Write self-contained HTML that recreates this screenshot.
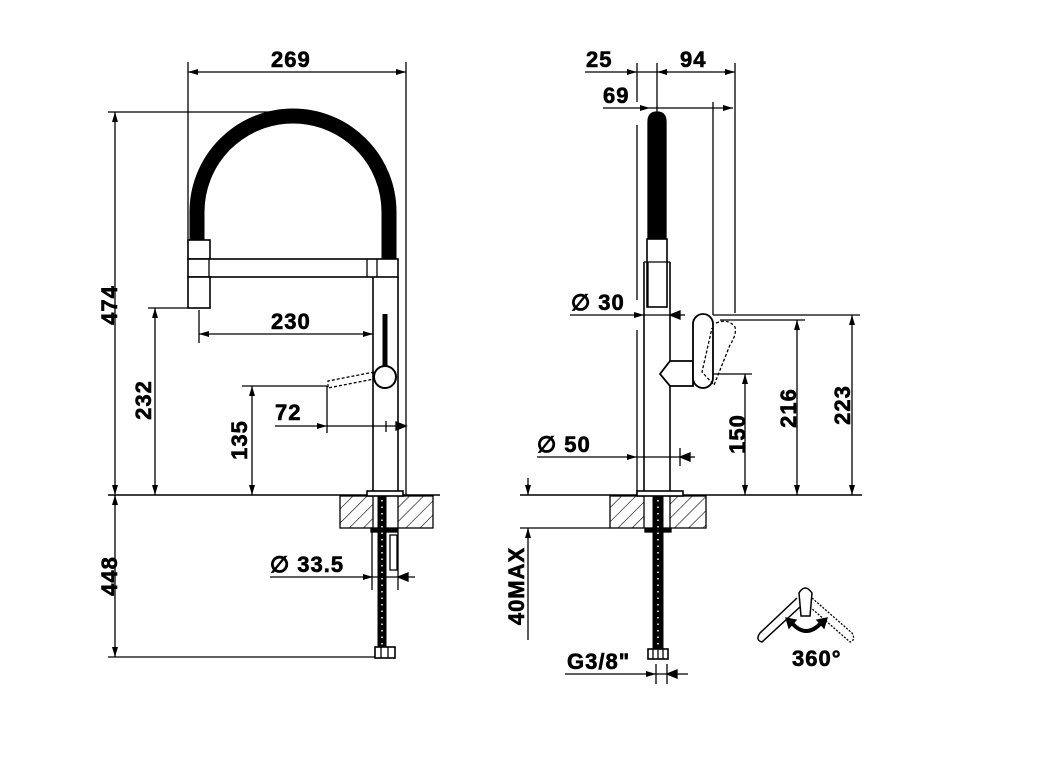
<!DOCTYPE html>
<html><head><meta charset="utf-8"><style>
html,body{margin:0;padding:0;background:#fff}
svg{display:block}
text{font-family:"Liberation Sans",Arial,sans-serif;font-weight:bold;font-size:22px;letter-spacing:1px;fill:#000;stroke:#000;stroke-width:0.6}
</style></head><body>
<svg width="1049" height="768" viewBox="0 0 1049 768" xmlns="http://www.w3.org/2000/svg">
<defs>
<marker id="a" viewBox="0 0 10 6" refX="10" refY="3" markerWidth="10" markerHeight="6" orient="auto-start-reverse" markerUnits="userSpaceOnUse"><path d="M0,0L10,3L0,6z" fill="#000"/></marker>
<pattern id="h" patternUnits="userSpaceOnUse" width="10" height="10" patternTransform="rotate(45)"><line x1="0" y1="0" x2="0" y2="10" stroke="#000" stroke-width="1.2"/></pattern>
</defs>
<g stroke="#000" stroke-width="1.3" fill="none">
<line x1="188" y1="62" x2="188" y2="245"/>
<line x1="406" y1="62" x2="406" y2="495"/>
<line x1="188" y1="72" x2="406" y2="72" marker-start="url(#a)" marker-end="url(#a)"/>
<line x1="108" y1="112" x2="285" y2="112"/>
<line x1="115" y1="112" x2="115" y2="495" marker-start="url(#a)" marker-end="url(#a)"/>
<line x1="108" y1="495" x2="440" y2="495" stroke-width="1.6"/>
<line x1="115" y1="495" x2="115" y2="657" marker-start="url(#a)" marker-end="url(#a)"/>
<line x1="108" y1="657" x2="378" y2="657"/>
<path d="M197,242 L197,212 A96,96 0 0 1 389,212 L389,260" stroke-width="15" stroke-linecap="butt"/>
<rect x="188" y="240" width="22" height="19" fill="#fff" stroke-width="1.6"/>
<rect x="188" y="259" width="210" height="18" fill="#fff" stroke-width="1.6"/>
<line x1="209" y1="259" x2="209" y2="277"/>
<line x1="367" y1="259" x2="367" y2="277"/>
<line x1="377" y1="259" x2="377" y2="277"/>
<rect x="188" y="277" width="22" height="31" fill="#fff" stroke-width="1.6"/>
<line x1="373" y1="277" x2="373" y2="493" stroke-width="1.6"/>
<line x1="398" y1="277" x2="398" y2="493" stroke-width="1.6"/>
<line x1="385" y1="314" x2="385" y2="366" stroke-width="5"/>
<circle cx="385" cy="377" r="11" fill="#fff" stroke-width="2"/>
<path d="M374,372 L328,381 L328,388 L374,379" stroke-dasharray="3,2"/>
<line x1="199" y1="310" x2="199" y2="343"/>
<line x1="199" y1="334" x2="373" y2="334" marker-start="url(#a)" marker-end="url(#a)"/>
<line x1="148" y1="308" x2="188" y2="308"/>
<line x1="155" y1="308" x2="155" y2="495" marker-start="url(#a)" marker-end="url(#a)"/>
<line x1="242" y1="386" x2="327" y2="386"/>
<line x1="252" y1="386" x2="252" y2="495" marker-start="url(#a)" marker-end="url(#a)"/>
<line x1="327" y1="386" x2="327" y2="433"/>
<line x1="275" y1="426" x2="327" y2="426" marker-end="url(#a)"/>
<line x1="327" y1="426" x2="406" y2="426"/>
<line x1="386" y1="421" x2="386" y2="432"/>
<path d="M396,422 L406,426 L396,430z" fill="#000"/>
<rect x="340" y="496" width="33" height="32" fill="url(#h)"/>
<rect x="398" y="496" width="35" height="32" fill="url(#h)"/>
<rect x="367" y="491" width="36" height="5" fill="#fff" stroke-width="1.6"/>
<line x1="372" y1="528" x2="372" y2="590"/>
<line x1="398" y1="528" x2="398" y2="590"/>
<rect x="371" y="528" width="26" height="4" fill="#000"/>
<line x1="382" y1="496" x2="382" y2="648" stroke-width="9"/>
<line x1="382" y1="500" x2="382" y2="645" stroke="#fff" stroke-width="1.5" stroke-dasharray="1.5,5"/>
<rect x="390" y="535" width="7" height="35" fill="#fff"/>
<rect x="375" y="647" width="20" height="11" fill="#fff" stroke-width="1.6"/>
<line x1="381" y1="647" x2="381" y2="658"/><line x1="388" y1="647" x2="388" y2="658"/>
<line x1="270" y1="577" x2="373" y2="577" marker-end="url(#a)"/>
<line x1="373" y1="577" x2="398" y2="577"/>
<line x1="398" y1="577" x2="415" y2="577"/>
<path d="M408,573 L398,577 L408,581z" fill="#000"/>
<line x1="637" y1="63" x2="637" y2="102"/>
<line x1="657" y1="63" x2="657" y2="112"/>
<line x1="735" y1="63" x2="735" y2="313"/>
<line x1="585" y1="72" x2="637" y2="72" marker-end="url(#a)"/>
<line x1="637" y1="72" x2="657" y2="72"/>
<line x1="657" y1="72" x2="735" y2="72" marker-start="url(#a)" marker-end="url(#a)"/>
<line x1="603" y1="108" x2="650" y2="108" marker-end="url(#a)"/>
<line x1="650" y1="108" x2="733" y2="108" marker-end="url(#a)"/>
<line x1="713" y1="102" x2="713" y2="315"/>
<line x1="637" y1="125" x2="637" y2="300"/>
<line x1="637" y1="330" x2="637" y2="495"/>
<path d="M648,240 L648,122 Q648,112 657,112 Q666,112 666,122 L666,240z" fill="#000"/>
<rect x="647" y="239" width="20" height="68" fill="#fff" stroke-width="1.6"/>
<line x1="644" y1="262" x2="670" y2="262"/>
<line x1="644" y1="262" x2="644" y2="493" stroke-width="1.6"/>
<line x1="670" y1="262" x2="670" y2="361" stroke-width="1.6"/>
<line x1="670" y1="386" x2="670" y2="493" stroke-width="1.6"/>
<line x1="648" y1="307" x2="648" y2="262"/>
<path d="M670,361 L693,361 L693,386 L670,386 L660,374z" fill="#fff" stroke-width="1.8"/>
<rect x="693" y="314" width="20" height="74" rx="10" fill="#fff" stroke-width="1.8"/>
<path d="M716,323 Q728,318 735,327 Q737,334 730,345 L714,385 L702,372 L712,328" stroke-dasharray="3,2"/>
<line x1="570" y1="315" x2="644" y2="315" marker-end="url(#a)"/>
<line x1="644" y1="315" x2="670" y2="315"/>
<line x1="670" y1="315" x2="685" y2="315"/>
<path d="M680,311 L670,315 L680,319z" fill="#000"/>
<line x1="713" y1="315" x2="860" y2="315"/>
<line x1="720" y1="320" x2="805" y2="320"/>
<line x1="713" y1="374" x2="752" y2="374"/>
<line x1="852" y1="315" x2="852" y2="495" marker-start="url(#a)" marker-end="url(#a)"/>
<line x1="797" y1="320" x2="797" y2="495" marker-start="url(#a)" marker-end="url(#a)"/>
<line x1="745" y1="374" x2="745" y2="495" marker-start="url(#a)" marker-end="url(#a)"/>
<line x1="680" y1="448" x2="680" y2="466"/>
<line x1="537" y1="457" x2="637" y2="457" marker-end="url(#a)"/>
<line x1="637" y1="457" x2="695" y2="457"/>
<path d="M690,453 L680,457 L690,461z" fill="#000"/>
<line x1="520" y1="495" x2="862" y2="495" stroke-width="1.6"/>
<line x1="520" y1="528" x2="610" y2="528"/>
<line x1="528" y1="478" x2="528" y2="495" marker-end="url(#a)"/>
<line x1="528" y1="640" x2="528" y2="528" marker-end="url(#a)"/>
<rect x="610" y="496" width="34" height="32" fill="url(#h)"/>
<rect x="670" y="496" width="36" height="32" fill="url(#h)"/>
<rect x="637" y="491" width="46" height="5" fill="#fff" stroke-width="1.6"/>
<rect x="645" y="528" width="26" height="4" fill="#000"/>
<line x1="658" y1="496" x2="658" y2="650" stroke-width="11"/>
<line x1="658" y1="500" x2="658" y2="646" stroke="#fff" stroke-width="1.5" stroke-dasharray="1.5,5"/>
<rect x="648" y="649" width="20" height="10" fill="#fff" stroke-width="1.6"/>
<line x1="653" y1="649" x2="653" y2="659"/><line x1="658" y1="649" x2="658" y2="659"/><line x1="663" y1="649" x2="663" y2="659"/>
<line x1="565" y1="674" x2="656" y2="674" marker-end="url(#a)"/>
<line x1="656" y1="674" x2="688" y2="674"/>
<path d="M677,670 L667,674 L677,678z" fill="#000"/>
<line x1="656" y1="664" x2="656" y2="684"/>
<line x1="667" y1="664" x2="667" y2="684"/>
<path d="M797,598 L760,633 Q755,640 762,642 L801,606" stroke-width="1.5"/>
<path d="M812,598 L852,633 Q856,640 850,642 L810,607" stroke-dasharray="2,1.5"/>
<path d="M799,593 Q805,583 812,593 L810,616 L801,616z" fill="#fff" stroke-width="1.5"/>
<path d="M791,622 Q806,640 822,622" stroke-width="4"/>
<path d="M786,618 L796,620 L789,628z" fill="#000"/>
<path d="M827,618 L817,620 L824,628z" fill="#000"/>
</g>
<text x="271" y="67">269</text>
<text x="271" y="329">230</text>
<text x="275" y="420">72</text>
<text transform="translate(117,305) rotate(-90)" text-anchor="middle">474</text>
<text transform="translate(151,400) rotate(-90)" text-anchor="middle">232</text>
<text transform="translate(247,440) rotate(-90)" text-anchor="middle">135</text>
<text transform="translate(117,576) rotate(-90)" text-anchor="middle">448</text>
<text x="270" y="572">∅ 33.5</text>
<text x="586" y="67">25</text>
<text x="680" y="67">94</text>
<text x="603" y="103">69</text>
<text x="571" y="310">∅ 30</text>
<text x="537" y="452">∅ 50</text>
<text transform="translate(745,434) rotate(-90)" text-anchor="middle">150</text>
<text transform="translate(796,408) rotate(-90)" text-anchor="middle">216</text>
<text transform="translate(850,405) rotate(-90)" text-anchor="middle">223</text>
<text transform="translate(524,586) rotate(-90)" text-anchor="middle">40MAX</text>
<text x="567" y="669">G3/8"</text>
<text x="792" y="666" font-size="18">360°</text>
</svg>
</body></html>
